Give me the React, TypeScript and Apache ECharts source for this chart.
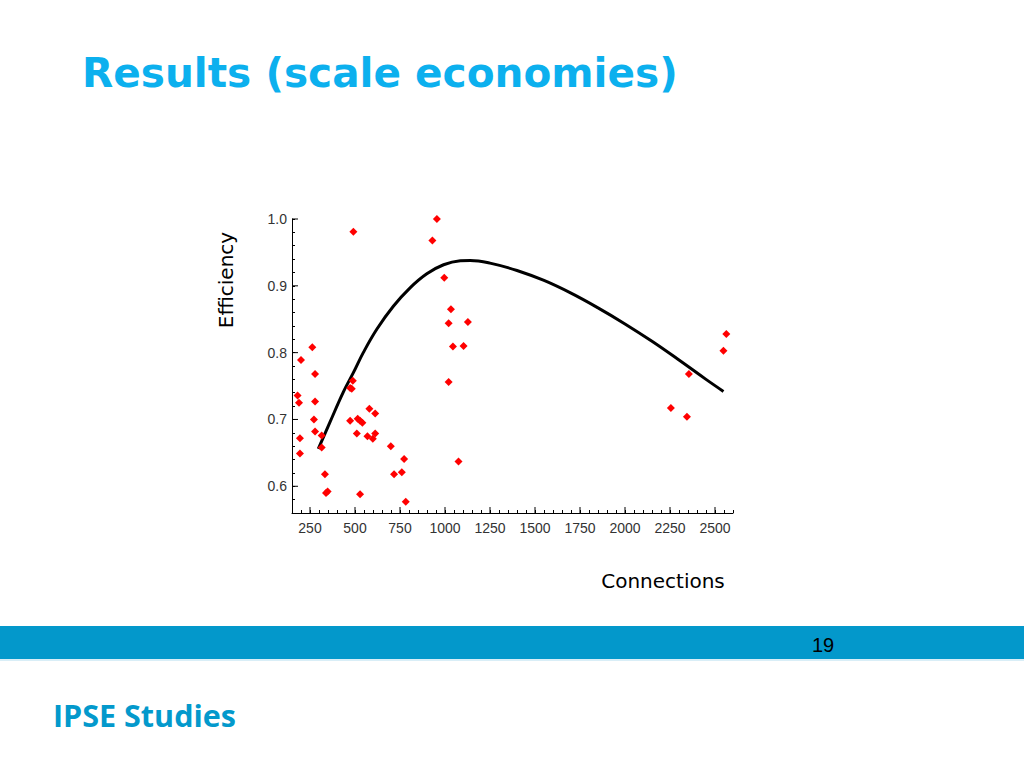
import React, { useEffect, useRef } from "react";
import * as echarts from "echarts";

// Observed plants: [connections, efficiency]
const observations: [number, number][] = [
  [263, 0.808], [200, 0.789], [278, 0.768], [181, 0.736], [189, 0.725],
  [278, 0.727], [272, 0.700], [194, 0.672], [278, 0.682], [194, 0.649],
  [315, 0.676], [315, 0.658], [333, 0.618], [339, 0.590], [348, 0.592],
  [488, 0.758], [473, 0.747], [482, 0.746], [473, 0.698], [515, 0.701],
  [528, 0.698], [541, 0.695], [510, 0.679], [580, 0.716], [612, 0.709],
  [569, 0.675], [599, 0.671], [612, 0.679], [528, 0.588], [699, 0.660],
  [773, 0.641], [717, 0.618], [760, 0.621], [782, 0.577], [1020, 0.756],
  [1044, 0.809], [1075, 0.637], [491, 0.981], [955, 1.0], [930, 0.968],
  [996, 0.912], [1033, 0.865], [1020, 0.844], [1127, 0.846], [1103, 0.810],
  [2563, 0.828], [2547, 0.803], [2355, 0.768], [2255, 0.717], [2344, 0.704],
];

// Fitted efficiency curve
const fittedCurve: [number, number][] = [
  [296, 0.656], [361, 0.696], [435, 0.741], [491, 0.770], [546, 0.800],
  [621, 0.835], [713, 0.8695], [806, 0.897], [899, 0.918], [992, 0.9315],
  [1085, 0.9375], [1140, 0.938], [1250, 0.934], [1400, 0.923], [1550, 0.908],
  [1700, 0.889], [1850, 0.867], [2000, 0.843], [2150, 0.817], [2300, 0.789],
  [2450, 0.760], [2547, 0.742],
];

const xMajorTicks = [250, 500, 750, 1000, 1250, 1500, 1750, 2000, 2250, 2500];
const yMajorTicks = [0.6, 0.7, 0.8, 0.9, 1.0];

const X_MIN = 150;
const X_MAX = 2600;
const Y_MIN = 0.56;
const Y_MAX = 1.0;

const TITLE = "Results (scale economies)";
const Y_NAME = "Efficiency";
const X_NAME = "Connections";
const FOOTER = "IPSE Studies";
const PAGE = "19";

const labelFont = "'Liberation Sans Narrow', 'Liberation Sans', sans-serif";

export default function App() {
  const ref = useRef<HTMLDivElement>(null);

  useEffect(() => {
    if (!ref.current) return;
    const chart = echarts.init(ref.current, null, { renderer: "svg" });
    chart.setOption({
      animation: false,
      backgroundColor: "#ffffff",
      grid: { left: 292, top: 219, width: 441, height: 294, containLabel: false },
      xAxis: {
        type: "value",
        min: X_MIN,
        max: X_MAX,
        interval: 50,
        splitLine: { show: false },
        axisLine: { show: true, lineStyle: { color: "#000", width: 1 } },
        axisTick: { show: true, inside: true, length: 3, lineStyle: { color: "#000" } },
        axisLabel: {
          margin: 8,
          color: "#333",
          fontSize: 14,
          fontFamily: labelFont,
          showMinLabel: true,
          showMaxLabel: true,
          formatter: (v: number) => (Math.abs(v % 250) < 1e-6 ? String(v) : ""),
        },
      },
      yAxis: {
        type: "value",
        min: Y_MIN,
        max: Y_MAX,
        interval: 0.02,
        splitLine: { show: false },
        axisLine: { show: true, lineStyle: { color: "#000", width: 1 } },
        axisTick: { show: true, inside: true, length: 3, lineStyle: { color: "#000" } },
        axisLabel: {
          margin: 5,
          color: "#333",
          fontSize: 14,
          fontFamily: labelFont,
          formatter: (v: number) =>
            Math.abs(v * 10 - Math.round(v * 10)) < 1e-6 ? v.toFixed(1) : "",
        },
      },
      series: [
        {
          type: "scatter",
          data: xMajorTicks.map((v) => [v, Y_MIN]),
          symbol: "rect",
          symbolSize: [1, 6],
          symbolOffset: [0, -3],
          itemStyle: { color: "#000", opacity: 1 },
          silent: true,
          clip: false,
          z: 1,
        },
        {
          type: "scatter",
          data: yMajorTicks.map((v) => [X_MIN, v]),
          symbol: "rect",
          symbolSize: [6, 1],
          symbolOffset: [3, 0],
          itemStyle: { color: "#000", opacity: 1 },
          silent: true,
          clip: false,
          z: 1,
        },
        {
          type: "line",
          data: fittedCurve,
          smooth: 0.4,
          showSymbol: false,
          lineStyle: { color: "#000", width: 3 },
          z: 2,
        },
        {
          type: "scatter",
          data: observations,
          symbol: "diamond",
          symbolSize: 8,
          itemStyle: { color: "#ff0000", opacity: 1 },
          z: 3,
        },
      ],
      graphic: [
        {
          type: "rect",
          shape: { x: 0, y: 626, width: 1024, height: 33 },
          style: { fill: "#0398cb" },
        },
        {
          type: "rect",
          shape: { x: 0, y: 659, width: 1024, height: 2 },
          style: { fill: "#d9eef7" },
        },
        {
          type: "text",
          x: 82,
          y: 73,
          style: {
            text: TITLE,
            fill: "#0cb0ee",
            font: "bold 40.6px 'DejaVu Sans', Verdana, sans-serif",
            textAlign: "left",
            textVerticalAlign: "middle",
          },
        },
        {
          type: "text",
          x: 226,
          y: 280,
          rotation: Math.PI / 2,
          style: {
            text: Y_NAME,
            fill: "#000",
            font: "20px 'DejaVu Sans', Verdana, sans-serif",
            textAlign: "center",
            textVerticalAlign: "middle",
          },
        },
        {
          type: "text",
          x: 663,
          y: 581,
          style: {
            text: X_NAME,
            fill: "#000",
            font: "20px 'DejaVu Sans', Verdana, sans-serif",
            textAlign: "center",
            textVerticalAlign: "middle",
          },
        },
        {
          type: "text",
          x: 823,
          y: 645,
          style: {
            text: PAGE,
            fill: "#000",
            font: "20px " + labelFont,
            textAlign: "center",
            textVerticalAlign: "middle",
          },
        },
        {
          type: "text",
          x: 53,
          y: 715,
          style: {
            text: FOOTER,
            fill: "#0399cc",
            font: "bold 30.5px 'Open Sans', 'Noto Sans', sans-serif",
            textAlign: "left",
            textVerticalAlign: "middle",
          },
        },
      ],
    });
    return () => chart.dispose();
  }, []);

  return (
    <div
      ref={ref}
      style={{ position: "absolute", left: 0, top: 0, width: 1024, height: 768 }}
    />
  );
}
